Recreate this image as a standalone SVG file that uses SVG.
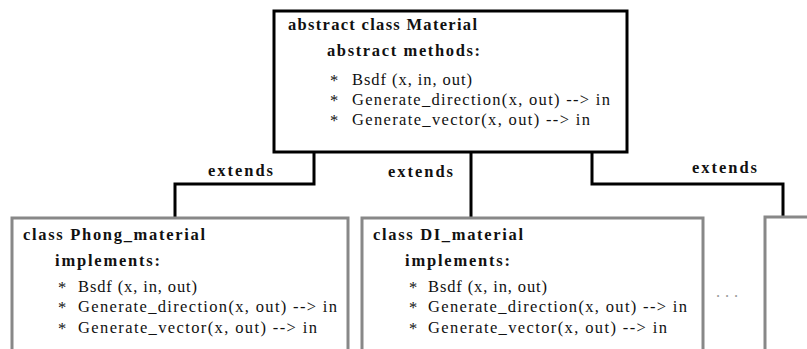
<svg xmlns="http://www.w3.org/2000/svg" width="807" height="349" viewBox="0 0 807 349">
<style>
text{font-family:"Liberation Serif","DejaVu Serif","Times New Roman",serif;font-size:16.5px;fill:#111}
.b{font-weight:bold}
.box{fill:#fff;stroke:#888;stroke-width:3}
.abs{fill:#fff;stroke:#000;stroke-width:3}
.con{fill:none;stroke:#000;stroke-width:3}
.dots{fill:#999}
</style>
<rect width="807" height="349" fill="#fff"/>
<g id="connectors">
<path class="con" d="M314,152V184H175V218"/>
<path class="con" d="M471,152V218"/>
<path class="con" d="M592,152V184H783V217"/>
<text class="b" x="208" y="176" textLength="65" lengthAdjust="spacing">extends</text>
<text class="b" x="388" y="177" textLength="65" lengthAdjust="spacing">extends</text>
<text class="b" x="692" y="173" textLength="65" lengthAdjust="spacing">extends</text>
</g>
<g id="material">
<rect class="abs" x="274" y="11" width="353" height="141"/>
<text class="b" x="288" y="30" textLength="189" lengthAdjust="spacing">abstract class Material</text>
<text class="b" x="327" y="56" textLength="153" lengthAdjust="spacing">abstract methods:</text>
<text x="330" y="86">*</text><text x="352" y="85" textLength="120" lengthAdjust="spacing">Bsdf (x, in, out)</text>
<text x="330" y="106">*</text><text x="352" y="105" textLength="258" lengthAdjust="spacing">Generate_direction(x, out) --&gt; in</text>
<text x="330" y="126">*</text><text x="352" y="125" textLength="238" lengthAdjust="spacing">Generate_vector(x, out) --&gt; in</text>
</g>
<g id="phong">
<rect class="box" x="12" y="218" width="336" height="140"/>
<text class="b" x="23" y="240" textLength="182" lengthAdjust="spacing">class Phong_material</text>
<text class="b" x="55" y="266" textLength="105" lengthAdjust="spacing">implements:</text>
<text x="58" y="293">*</text><text x="78" y="292" textLength="119" lengthAdjust="spacing">Bsdf (x, in, out)</text>
<text x="58" y="313">*</text><text x="78" y="312" textLength="259" lengthAdjust="spacing">Generate_direction(x, out) --&gt; in</text>
<text x="58" y="334">*</text><text x="78" y="333" textLength="239" lengthAdjust="spacing">Generate_vector(x, out) --&gt; in</text>
</g>
<g id="di">
<rect class="box" x="362" y="218" width="341" height="140"/>
<text class="b" x="373" y="240" textLength="150" lengthAdjust="spacing">class DI_material</text>
<text class="b" x="405" y="266" textLength="105" lengthAdjust="spacing">implements:</text>
<text x="409" y="293">*</text><text x="428" y="292" textLength="119" lengthAdjust="spacing">Bsdf (x, in, out)</text>
<text x="409" y="313">*</text><text x="428" y="312" textLength="259" lengthAdjust="spacing">Generate_direction(x, out) --&gt; in</text>
<text x="409" y="334">*</text><text x="428" y="333" textLength="239" lengthAdjust="spacing">Generate_vector(x, out) --&gt; in</text>
</g>
<g id="more">
<text class="dots" x="716" y="297" textLength="22" lengthAdjust="spacing">...</text>
<rect class="box" x="765" y="217" width="60" height="140"/>
</g>
</svg>
